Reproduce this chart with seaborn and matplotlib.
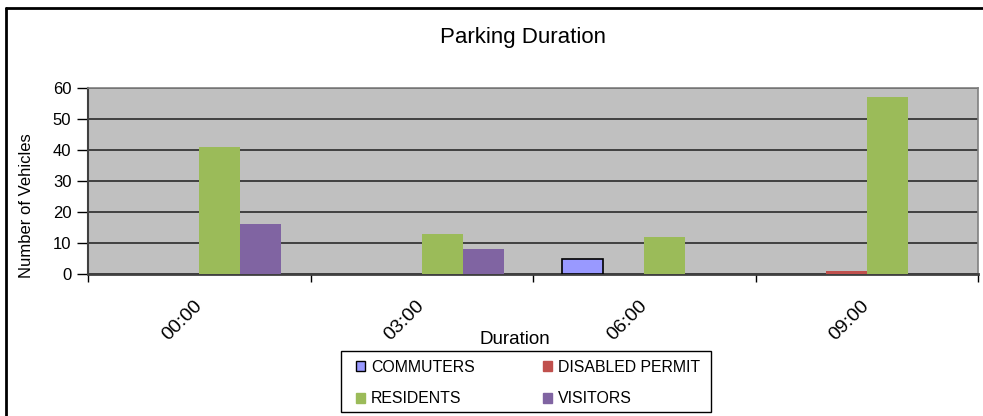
import matplotlib
matplotlib.use("Agg")
import matplotlib.pyplot as plt
from matplotlib.lines import Line2D
from matplotlib.patches import Patch, Rectangle
import numpy as np
import pandas as pd
import seaborn as sns

# Parking survey counts per time slot
durations = ["00:00", "03:00", "06:00", "09:00"]
commuters = [0, 0, 5, 0]
disabled_permit = [0, 0, 0, 1]
residents = [41, 13, 12, 57]
visitors = [16, 8, 0, 0]

series_names = ["COMMUTERS", "DISABLED PERMIT", "RESIDENTS", "VISITORS"]
series_colors = ["#9999FF", "#C0504D", "#9BBB59", "#8064A2"]
y_ticks = [0, 10, 20, 30, 40, 50, 60]

df = pd.DataFrame({
    "Duration": durations * 4,
    "Group": np.repeat(series_names, len(durations)),
    "Vehicles": commuters + disabled_permit + residents + visitors,
})

sns.set_theme(style="white")
plt.rcParams["font.family"] = ["Liberation Sans", "DejaVu Sans"]
plt.rcParams.update({"text.color": "black", "axes.labelcolor": "black",
                     "xtick.color": "black", "ytick.color": "black"})

W, H = 983, 416
fig = plt.figure(figsize=(W / 100, H / 100), dpi=100)
ax = fig.add_axes([88 / W, 1 - 274 / H, (978 - 88) / W, (274 - 88) / H])
ax.set_facecolor("#C0C0C0")

sns.barplot(data=df, x="Duration", y="Vehicles", hue="Group",
            hue_order=series_names, order=durations,
            palette=series_colors, width=0.737, saturation=1,
            linewidth=0, legend=False, ax=ax, zorder=3)

# Commuters bars carry a thin black outline; empty bars are not drawn
commuter_rgb = matplotlib.colors.to_rgb("#9999FF")
for bar in ax.patches:
    if bar.get_height() == 0:
        bar.set_visible(False)
    elif tuple(bar.get_facecolor()[:3]) == commuter_rgb:
        bar.set_edgecolor("black")
        bar.set_linewidth(1.2)
    else:
        bar.set_linewidth(0)

ax.set_ylim(0, 60)
ax.set_xlim(-0.5, 3.5)
ax.set_yticks(y_ticks)
ax.yaxis.grid(True, color="#404040", linewidth=1.4, zorder=1)
ax.set_axisbelow(True)
ax.tick_params(axis="y", direction="out", length=8, width=1, color="black",
               labelcolor="black", labelsize=12, pad=4, left=True)
ax.tick_params(axis="x", length=0, labelsize=14, pad=21, labelcolor="black")
ax.set_xticks(range(len(durations)))
ax.set_xticklabels(durations, rotation=45, ha="right", va="center",
                   rotation_mode="anchor")
ax.set_xticks(np.arange(-0.5, 4, 1), minor=True)
ax.tick_params(axis="x", which="minor", direction="out", length=6,
               width=1, color="black", bottom=True)

for side in ["top", "right"]:
    ax.spines[side].set_color("#808080")
    ax.spines[side].set_linewidth(1.2)
ax.spines["left"].set_color("#404040")
ax.spines["bottom"].set_color("#404040")
ax.spines["left"].set_linewidth(1.5)
ax.spines["bottom"].set_linewidth(2)

ax.set_xlabel("")
ax.set_ylabel("")
fig.text(27 / W, 1 - 206 / H, "Number of Vehicles", rotation=90,
         ha="center", va="center", fontsize=12)

fig.text(523.5 / W, 1 - 38 / H, "Parking Duration", ha="center",
         va="center", fontsize=16)
fig.text(515 / W, 1 - 340 / H, "Duration", ha="center", va="center",
         fontsize=13.5)

handles = {}
for name, color in zip(series_names, series_colors):
    edge = "black" if name == "COMMUTERS" else color
    handles[name] = Patch(facecolor=color, edgecolor=edge, linewidth=1.0,
                          label=name)
# Two-column legend read across rows, inside a separately drawn box
legend_order = ["COMMUTERS", "RESIDENTS", "DISABLED PERMIT", "VISITORS"]
fig.legend(handles=[handles[n] for n in legend_order], ncol=2,
           loc="upper left", bbox_to_anchor=(347 / W, 1 - 351 / H),
           frameon=False, fontsize=11.4,
           handlelength=0.6, handleheight=0.6, handletextpad=0.35,
           borderpad=0.56, labelspacing=1.04, columnspacing=4.3,
           borderaxespad=0)
fig.add_artist(Rectangle((341 / W, 1 - 412 / H), (711 - 341) / W, 61 / H,
                         transform=fig.transFigure, fill=False,
                         edgecolor="black", linewidth=1.0))

# Chart-area frame along the top and left edges
fig.add_artist(Line2D([6 / W, 6 / W], [0, 1 - 8 / H], color="black",
                      linewidth=2, transform=fig.transFigure))
fig.add_artist(Line2D([6 / W, 1], [1 - 8 / H, 1 - 8 / H], color="black",
                      linewidth=2, transform=fig.transFigure))

fig.savefig("out.png", dpi=100)
